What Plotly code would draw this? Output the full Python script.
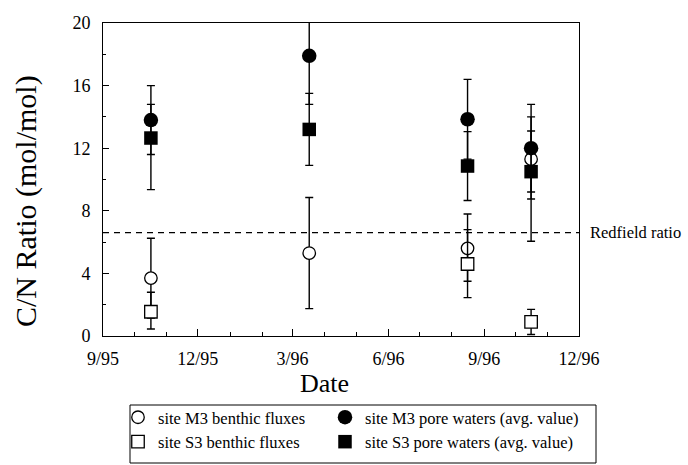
import plotly.graph_objects as go
import pandas as pd

# ---- data ----
dates = ["1995-10-17", "1996-03-17", "1996-08-16", "1996-10-16"]

m3_benthic = [3.7, 5.3, 5.6, 11.3]
m3_benthic_plus = [2.55, 3.55, 2.2, 2.7]
m3_benthic_minus = [2.55, 3.55, 2.1, 2.55]

s3_benthic = [1.55, None, 4.6, 0.9]
s3_benthic_plus = [1.25, 0, 2.2, 0.8]
s3_benthic_minus = [1.1, 0, 2.15, 0.8]

m3_pore = [13.8, 17.9, 13.85, 12.0]
m3_pore_plus = [2.2, 3.1, 2.55, 2.8]
m3_pore_minus = [2.2, 3.1, 2.55, 2.8]

s3_pore = [12.65, 13.2, 10.86, 10.5]
s3_pore_plus = [2.15, 2.3, 2.2, 2.6]
s3_pore_minus = [3.3, 2.3, 2.2, 4.45]

redfield = 6.6

x_tickvals = ["1995-09-01", "1995-12-01", "1996-03-01", "1996-06-01", "1996-09-01", "1996-12-01"]
x_ticktext = ["9/95", "12/95", "3/96", "6/96", "9/96", "12/96"]
x_minor = [d.strftime("%Y-%m-%d") for d in pd.date_range("1995-09-01", "1996-12-01", freq="MS")]
y_tickvals = [0, 4, 8, 12, 16, 20]
y_minor = [2, 6, 10, 14, 18]

FONT = "Liberation Serif"

def err(plus, minus):
    return dict(type="data", symmetric=False, array=plus, arrayminus=minus,
                color="black", thickness=1.4, width=4)

fig = go.Figure()
fig.add_trace(go.Scatter(
    x=dates, y=m3_benthic, mode="markers", name="site M3 benthic fluxes",
    marker=dict(symbol="circle", size=12.5, color="white", line=dict(color="black", width=1.3)),
    error_y=err(m3_benthic_plus, m3_benthic_minus), legend="legend"))
fig.add_trace(go.Scatter(
    x=dates, y=s3_benthic, mode="markers", name="site S3 benthic fluxes",
    marker=dict(symbol="square", size=12.5, color="white", line=dict(color="black", width=1.3)),
    error_y=err(s3_benthic_plus, s3_benthic_minus), legend="legend"))
fig.add_trace(go.Scatter(
    x=dates, y=s3_pore, mode="markers", name="site S3 pore waters (avg. value)",
    marker=dict(symbol="square", size=13.5, color="black", line=dict(color="black", width=0)),
    error_y=err(s3_pore_plus, s3_pore_minus), legend="legend2"))
fig.add_trace(go.Scatter(
    x=dates, y=m3_pore, mode="markers", name="site M3 pore waters (avg. value)",
    marker=dict(symbol="circle", size=14.5, color="black", line=dict(color="black", width=0)),
    error_y=err(m3_pore_plus, m3_pore_minus), legend="legend2"))

W, H = 688, 465
L, R, T, B = 103, 109, 23, 129
pw, ph = W - L - R, H - T - B

def px(xp):
    return (xp - L) / pw

def py(yp):
    return (H - B - yp) / ph

fig.add_shape(type="line", xref="paper", yref="y", x0=0, x1=1, y0=redfield, y1=redfield,
              line=dict(color="black", width=1.3, dash="6px,5px"))
fig.add_annotation(text="Redfield ratio", xref="paper", yref="y", x=1, y=redfield,
                   xanchor="left", yanchor="middle", xshift=9, showarrow=False,
                   font=dict(family=FONT, size=16.5, color="black"))
fig.add_annotation(text="Date", xref="paper", yref="paper", x=px(324), y=py(383),
                   xanchor="center", yanchor="middle", showarrow=False,
                   font=dict(family=FONT, size=26, color="black"))
fig.add_annotation(text="C/N Ratio (mol/mol)", xref="paper", yref="paper", x=px(26), y=py(201),
                   xanchor="center", yanchor="middle", textangle=-90, showarrow=False,
                   font=dict(family=FONT, size=30, color="black"))
# legend frame
fig.add_shape(type="rect", xref="paper", yref="paper", x0=px(130), x1=px(596), y0=py(405), y1=py(463),
              line=dict(color="black", width=1), fillcolor="rgba(0,0,0,0)")

fig.update_layout(
    width=W, height=H,
    margin=dict(l=L, r=R, t=T, b=B, pad=0, autoexpand=False),
    paper_bgcolor="white", plot_bgcolor="white",
    font=dict(family=FONT, size=18, color="black"),
    showlegend=True,
    legend=dict(x=px(118), y=py(400),
                xanchor="left", yanchor="top", orientation="v", bgcolor="rgba(0,0,0,0)",
                borderwidth=0, font=dict(family=FONT, size=16.5, color="black"),
                tracegroupgap=0, itemclick=False),
    legend2=dict(x=px(325), y=py(400),
                 xanchor="left", yanchor="top", orientation="v", bgcolor="rgba(0,0,0,0)",
                 borderwidth=0, font=dict(family=FONT, size=16.5, color="black"),
                 tracegroupgap=0, traceorder="reversed", itemclick=False),
    xaxis=dict(type="date", range=["1995-09-01", "1996-12-01"],
               tickmode="array", tickvals=x_tickvals, ticktext=x_ticktext,
               ticks="inside", ticklen=7, tickwidth=1, tickcolor="black",
               minor=dict(ticks="inside", ticklen=4, tickwidth=1, tickcolor="black",
                          tickmode="array", tickvals=x_minor, showgrid=False),
               showline=True, linecolor="black", linewidth=1, mirror=True,
               showgrid=False, zeroline=False, ticklabelstandoff=6,
               tickfont=dict(family=FONT, size=18, color="black")),
    yaxis=dict(range=[0, 20], tickmode="array", tickvals=y_tickvals,
               ticks="inside", ticklen=6, tickwidth=1, tickcolor="black",
               minor=dict(ticks="inside", ticklen=3, tickwidth=1, tickcolor="black",
                          tickmode="array", tickvals=y_minor, showgrid=False),
               showline=True, linecolor="black", linewidth=1, mirror=True,
               showgrid=False, zeroline=False, ticklabelstandoff=8,
               tickfont=dict(family=FONT, size=18, color="black")),
)

fig.write_html("out.html", post_script="document.body.style.margin='0px';",
               config={"displayModeBar": False})
